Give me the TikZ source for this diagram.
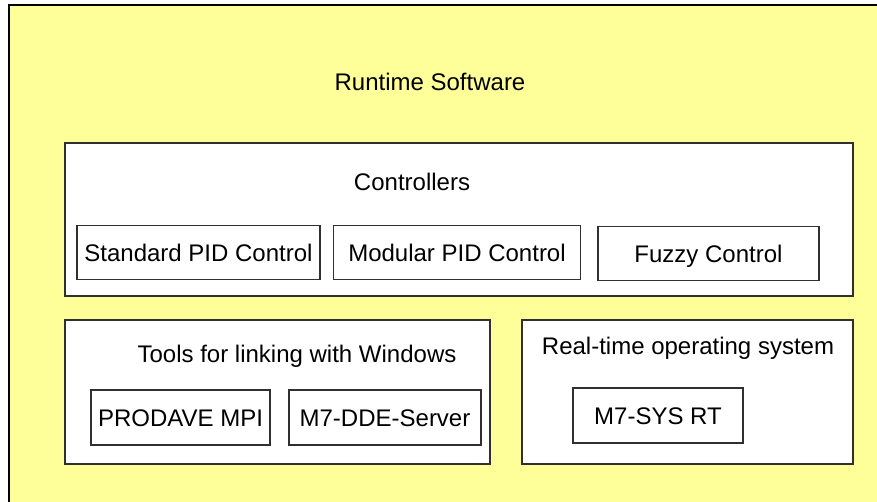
\documentclass[tikz,border=0pt]{standalone}
\usepackage{fontspec}
\setmainfont{Liberation Sans}
\definecolor{paleyellow}{HTML}{FFFF99}
\definecolor{boxline}{HTML}{303030}

\begin{document}
\begin{tikzpicture}[x=1pt, y=-1pt,
    every node/.style={font=\fontsize{24}{28}\selectfont},
    panel/.style={draw=boxline, line width=\linethic, fill=white, inner sep=0pt},
    module/.style={draw=boxline, line width=\linethic, fill=white, inner sep=0pt,
                   text height=17pt, text depth=0pt},
    caption/.style={anchor=base, inner sep=0pt}]
    %--------------------%
    % Parameters
    %--------------------%
    \def\linethic{1.6pt}
    \def\modh{54pt}

    \useasboundingbox (0,0) rectangle (877,501);
    \fill[white] (0,0) rectangle (877,501);

    %--------------------%
    % Runtime Software frame
    %--------------------%
    \draw[fill=paleyellow, line width=2pt] (9,5) rectangle (900,520);
    \node[caption] (runtime) at (430,90) {Runtime Software};

    %--------------------%
    % Controllers
    %--------------------%
    \node[panel, minimum width=788pt, minimum height=153pt] (controllers) at (459,219.5) {};
    \node[caption] (controllersLabel) at (412,190) {Controllers};

    \node[module, minimum width=243pt, minimum height=\modh] (stdpid) at (198.5,252.5) {Standard PID Control};
    \node[module, minimum width=247pt, minimum height=\modh] (modpid) at (457,252.5) {Modular PID Control};
    \node[module, minimum width=221pt, minimum height=\modh] (fuzzy) at (708.5,253.5) {Fuzzy Control};

    %--------------------%
    % Tools for linking with Windows
    %--------------------%
    \node[panel, minimum width=425pt, minimum height=144pt] (tools) at (277.5,392) {};
    \node[caption] (toolsLabel) at (297,362) {Tools for linking with Windows};

    \node[module, minimum width=179pt, minimum height=55pt] (prodave) at (180.5,417.5) {PRODAVE MPI};
    \node[module, minimum width=192pt, minimum height=55pt] (ddeserver) at (385,417.5) {M7-DDE-Server};

    %--------------------%
    % Real-time operating system
    %--------------------%
    \node[panel, minimum width=331pt, minimum height=144pt] (rtos) at (687.5,392) {};
    \node[caption] (rtosLabel) at (688,354) {Real-time operating system};

    \node[module, minimum width=170pt, minimum height=55pt] (sysrt) at (658,415.5) {M7-SYS RT};

\end{tikzpicture}
\end{document}
